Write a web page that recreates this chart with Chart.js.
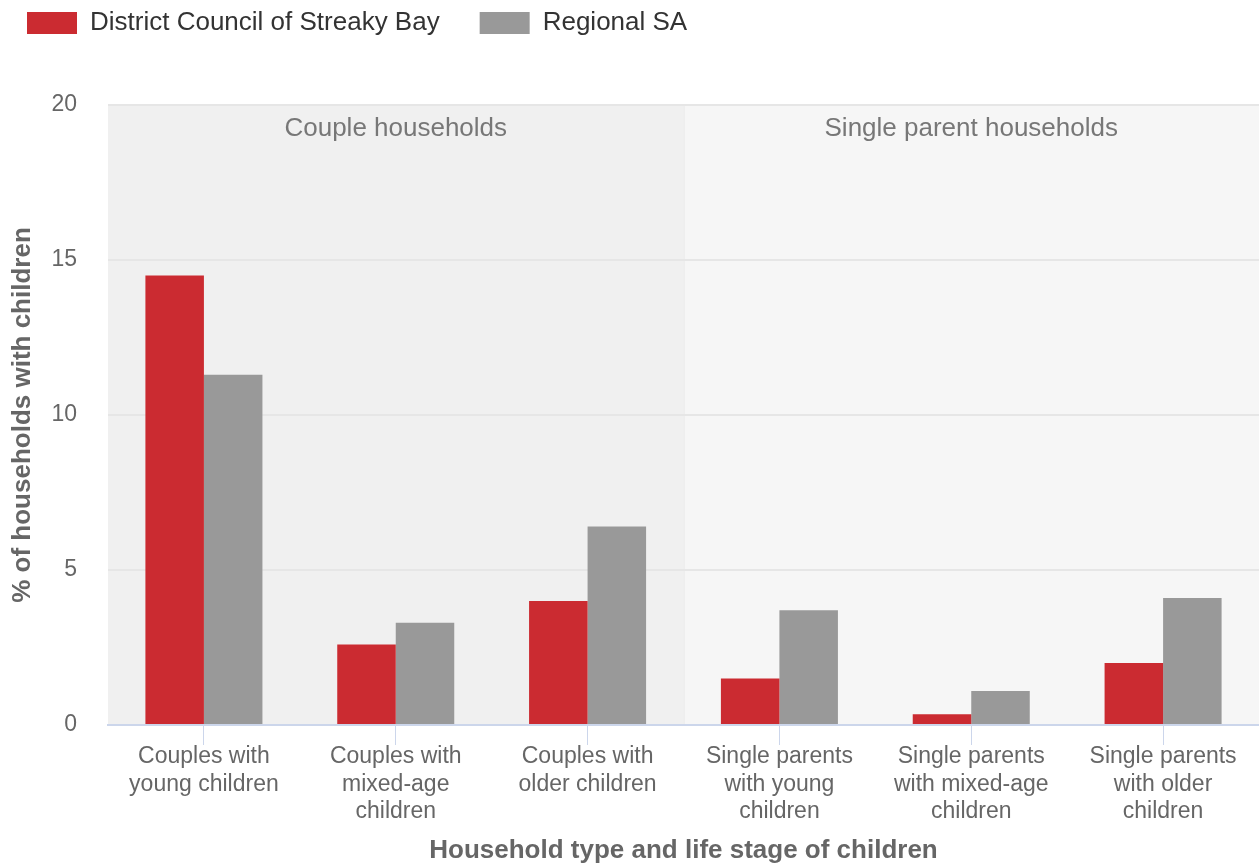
<!DOCTYPE html>
<html>
<head>
<meta charset="utf-8">
<script src="https://cdn.jsdelivr.net/npm/chart.js@4/dist/chart.umd.min.js"></script>
<style>
  html, body { margin: 0; padding: 0; background: #fff; }
  #wrap { width: 1259px; height: 867px; position: relative; }
</style>
</head>
<body>
<div id="wrap"><canvas id="householdChart"></canvas></div>
<script>
    // categories (x axis), split over lines
    const categories = [
      ['Couples with', 'young children'],
      ['Couples with', 'mixed-age', 'children'],
      ['Couples with', 'older children'],
      ['Single parents', 'with young', 'children'],
      ['Single parents', 'with mixed-age', 'children'],
      ['Single parents', 'with older', 'children']
    ];
    const streakyBay = [14.5, 2.6, 4.0, 1.5, 0.35, 2.0];   // red
    const regionalSA = [11.3, 3.3, 6.4, 3.7, 1.1, 4.1];    // grey
    const yTicks = [0, 5, 10, 15, 20];

    // shaded groups behind the bars (category index ranges)
    const bandNames = ['Couple households', 'Single parent households'];
    const bandFrom = [-0.5, 2.5];
    const bandTo = [2.5, 5.5];
    const bandFill = ['#f0f0f0', '#f6f6f6'];

    const FONT = '"Liberation Sans", Arial, sans-serif';

    const bands = {
      id: 'bands',
      beforeDraw(chart) {
        const ctx = chart.ctx, x = chart.scales.x, area = chart.chartArea;
        ctx.save();
        for (let i = 0; i < bandNames.length; i++) {
          const a = x.getPixelForValue(bandFrom[i]);
          const b = x.getPixelForValue(bandTo[i]);
          ctx.fillStyle = bandFill[i];
          ctx.fillRect(a, area.top, b - a, area.bottom - area.top);
          ctx.fillStyle = '#777';
          ctx.font = '26px ' + FONT;
          ctx.textAlign = 'center';
          ctx.textBaseline = 'middle';
          ctx.fillText(bandNames[i], (a + b) / 2, area.top + 24);
        }
        // thin divider between the groups
        const d = x.getPixelForValue(bandTo[0]);
        ctx.strokeStyle = '#e6e6e6';
        ctx.lineWidth = 1;
        ctx.beginPath();
        ctx.moveTo(d + 0.5, area.top);
        ctx.lineTo(d + 0.5, area.bottom);
        ctx.stroke();
        ctx.restore();
      }
    };

    // room under the legend, and pull it to the left edge
    const legendGap = {
      id: 'legendGap',
      beforeInit(chart) {
        const fit = chart.legend.fit;
        chart.legend.fit = function () {
          fit.bind(chart.legend)();
          this.height += 61;
        };
      },
      afterLayout(chart) {
        chart.legend.left -= 13;
        chart.legend.top += 2;
      }
    };

    const data = {
      labels: categories,
      datasets: [{
        label: 'District Council of Streaky Bay',
        data: streakyBay,
        backgroundColor: '#cb2b31',
        borderWidth: 0,
        barPercentage: 1,
        categoryPercentage: 0.61
      },
      {
        label: 'Regional SA',
        data: regionalSA,
        backgroundColor: '#999999',
        borderWidth: 0,
        barPercentage: 1,
        categoryPercentage: 0.61
      }]
    };

    const config = {
      type: 'bar',
      data: data,
      plugins: [bands, legendGap],
      options: {
        responsive: true,
        maintainAspectRatio: false,
        animation: false,
        layout: { padding: { left: 0, right: 0, top: -32, bottom: 1 } },
        plugins: {
          tooltip: { enabled: false },
          legend: {
            align: 'start',
            labels: {
              boxWidth: 50,
              boxHeight: 22,
              padding: 40,
              color: '#333',
              font: { family: FONT, size: 26 }
            }
          }
        },
        scales: {
          x: {
            grid: {
              offset: false,
              drawOnChartArea: false,
              drawTicks: true,
              tickLength: 20,
              tickColor: '#ccd6eb',
              tickWidth: 1
            },
            border: { display: true, color: '#ccd6eb', width: 2 },
            ticks: {
              color: '#666',
              padding: -2,
              maxRotation: 0,
              autoSkip: false,
              font: { family: FONT, size: 23, lineHeight: 1.2 }
            },
            title: {
              display: true,
              text: 'Household type and life stage of children',
              color: '#666',
              padding: { top: 11, bottom: 0 },
              font: { family: FONT, size: 26, weight: 'bold' }
            }
          },
          y: {
            min: 0,
            max: 20,
            afterBuildTicks(axis) { axis.ticks = yTicks.map(v => ({ value: v })); },
            afterFit(axis) { axis.width = 108; },
            grid: { color: '#e6e6e6', lineWidth: 2, drawTicks: false },
            border: { display: false },
            ticks: {
              color: '#666',
              padding: 31,
              font: { family: FONT, size: 23 }
            },
            title: {
              display: true,
              text: '% of households with children',
              color: '#666',
              padding: { top: 7, bottom: 12 },
              font: { family: FONT, size: 26, weight: 'bold' }
            }
          }
        }
      }
    };

    const householdChart = new Chart(
      document.getElementById('householdChart'),
      config
    );
</script>
</body>
</html>
